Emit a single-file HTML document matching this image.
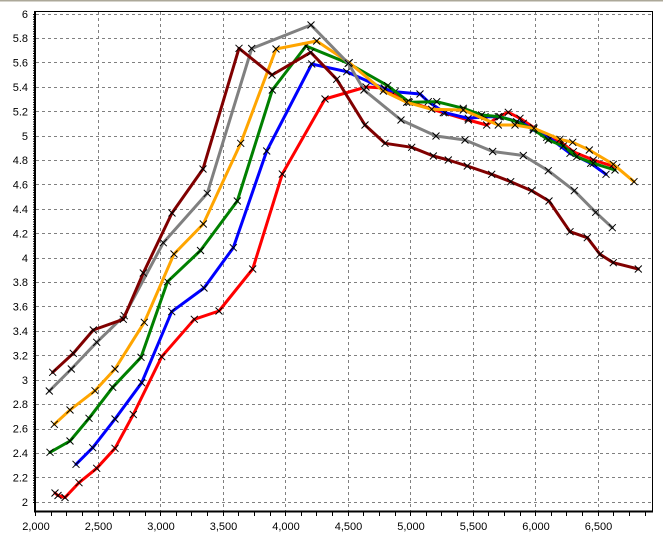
<!DOCTYPE html>
<html><head><meta charset="utf-8"><style>
html,body{margin:0;padding:0;background:#fff;}
svg{display:block;}
text{font-family:"Liberation Sans",sans-serif;font-size:11px;fill:#000;}
</style></head><body>
<svg width="663" height="539" viewBox="0 0 663 539" xmlns="http://www.w3.org/2000/svg">
<defs>
<marker id="mx" markerUnits="userSpaceOnUse" markerWidth="10" markerHeight="10" refX="5" refY="5" overflow="visible">
<path d="M1.5 1.5L8.5 8.5M8.5 1.5L1.5 8.5" stroke="#000" stroke-width="1" fill="none"/>
</marker>
</defs>
<rect x="0" y="0" width="663" height="539" fill="#fff"/>
<rect x="0" y="0" width="663" height="1.5" fill="#aca899"/>
<!-- grid -->
<g stroke="#808080" stroke-width="1" stroke-dasharray="3,3" fill="none">
<path d="M36 14.5H652M36 38.5H652M36 62.5H652M36 87.5H652M36 111.5H652M36 136.5H652M36 160.5H652M36 184.5H652M36 209.5H652M36 233.5H652M36 258.5H652M36 282.5H652M36 306.5H652M36 331.5H652M36 355.5H652M36 380.5H652M36 404.5H652M36 429.5H652M36 453.5H652M36 477.5H652M36 502.5H652"/>
<path d="M98.5 12V511M160.5 12V511M223.5 12V511M285.5 12V511M348.5 12V511M410.5 12V511M473.5 12V511M535.5 12V511M598.5 12V511"/>
</g>
<!-- frame -->
<path d="M35 11.5H652.5V511" stroke="#000" stroke-width="1" fill="none"/>
<path d="M35 11V512" stroke="#000" stroke-width="2" fill="none"/>
<path d="M34 511.5H653" stroke="#000" stroke-width="2" fill="none"/>
<path d="M33.5 14V503" stroke="#000" stroke-width="1" stroke-dasharray="1,1.44" fill="none"/>
<path stroke="#000" stroke-width="1" fill="none" d="M35.5 512v4M51.5 512v4M66.5 512v4M82.5 512v4M98.5 512v4M113.5 512v4M129.5 512v4M145.5 512v4M160.5 512v4M176.5 512v4M191.5 512v4M207.5 512v4M223.5 512v4M238.5 512v4M254.5 512v4M270.5 512v4M285.5 512v4M301.5 512v4M316.5 512v4M332.5 512v4M348.5 512v4M363.5 512v4M379.5 512v4M395.5 512v4M410.5 512v4M426.5 512v4M441.5 512v4M457.5 512v4M473.5 512v4M488.5 512v4M504.5 512v4M520.5 512v4M535.5 512v4M551.5 512v4M566.5 512v4M582.5 512v4M598.5 512v4M613.5 512v4M629.5 512v4M645.5 512v4"/>
<!-- y labels -->
<g text-anchor="end">
<text x="28" y="18">6</text>
<text x="28" y="42">5.8</text>
<text x="28" y="66.5">5.6</text>
<text x="28" y="91">5.4</text>
<text x="28" y="115.5">5.2</text>
<text x="28" y="140">5</text>
<text x="28" y="164">4.8</text>
<text x="28" y="188.5">4.6</text>
<text x="28" y="213">4.4</text>
<text x="28" y="237.5">4.2</text>
<text x="28" y="262">4</text>
<text x="28" y="286">3.8</text>
<text x="28" y="310.5">3.6</text>
<text x="28" y="335">3.4</text>
<text x="28" y="359.5">3.2</text>
<text x="28" y="384">3</text>
<text x="28" y="408">2.8</text>
<text x="28" y="432.5">2.6</text>
<text x="28" y="457">2.4</text>
<text x="28" y="481.5">2.2</text>
<text x="28" y="506">2</text>
</g>
<!-- x labels -->
<g text-anchor="middle">
<text x="36" y="530">2,000</text>
<text x="98.5" y="530">2,500</text>
<text x="161" y="530">3,000</text>
<text x="223.5" y="530">3,500</text>
<text x="286" y="530">4,000</text>
<text x="348.5" y="530">4,500</text>
<text x="411" y="530">5,000</text>
<text x="473.5" y="530">5,500</text>
<text x="536" y="530">6,000</text>
<text x="598.5" y="530">6,500</text>
</g>
<!-- series -->
<g fill="none" stroke-width="3" stroke-linejoin="round" stroke-linecap="round" marker-start="url(#mx)" marker-mid="url(#mx)" marker-end="url(#mx)">
<polyline stroke="#ff0000" points="55,493 58,495.5 65,497.5 79,482.7 96.7,468.3 115,448.3 133.3,414.5 161.7,356.7 194.3,319.3 219,311 252.7,269 282.3,174 325,99 366,87 384.3,88 408.3,101.7 443.3,112.7 468.3,120 486.7,125 498.3,116.7 508.3,112.3 520,118.3 533.3,127.3 546.7,137.3 561.7,142.7 573.3,151.7 593.3,160 616.7,167.3"/>
<polyline stroke="#0000ff" points="76,464.3 92.7,447.7 115,419 141.7,382.7 171.7,311.7 204,288 233.3,247.7 266.7,151 311.7,64 346.7,71.7 385,89 395,91.7 420,94 428.3,101.7 445,112.7 468.3,118.3 485,116.7 500,116.7 523.3,123.3 533.3,130 550,138.3 570,153.3 590.7,163.3 606,174.3"/>
<polyline stroke="#008000" points="50,452.3 70,441 89,418.3 112.7,387.3 141,357.3 167.5,281.7 200.5,250.5 237.3,201 272.3,90 306,46 348.3,63.3 387.7,85.7 409.3,102.3 436.7,101.7 463.3,108.3 481.7,115 500,116.7 516.7,121.7 533.3,129.3 548.3,140 563.3,146 576.7,156.7 593.3,163.3 615,170"/>
<polyline stroke="#ffa500" points="54.3,424.3 70,410 95,390.7 115,369 144.3,322.3 174,254 203.3,224 240.7,143.3 276,49 316.7,41 349.3,62.7 383.3,91 406.7,102.3 431.7,109.3 463.3,110 498.3,125 515,125 534,128.3 560,139.3 572.7,142.3 589.3,150 613.3,164.3 634,181.7"/>
<polyline stroke="#808080" points="49.3,391 71.3,369 96.7,342.3 124.3,315.7 163.3,242.7 207.3,193.3 251.7,48.5 311,25 348.3,63.3 364,90 401,120 436,136 465,140 492.7,151.5 523.3,155.5 548.3,170.7 574.3,190.7 595.7,212.3 612.3,227.7"/>
<polyline stroke="#800000" points="52.7,372.3 73.3,353.3 93.3,330 123.3,319.3 143.3,273 172,213 203,169 239,48.3 272,75 310.7,52.3 336.7,79.3 365,125 385,143.3 411.7,147.3 433.3,156 448.3,160 467.3,166 491.7,174.3 510.7,181.7 531.7,190.7 549,201 570,231.7 587.3,237.7 600,254.3 613.3,262.7 638.3,269"/>
</g>
</svg>
</body></html>
